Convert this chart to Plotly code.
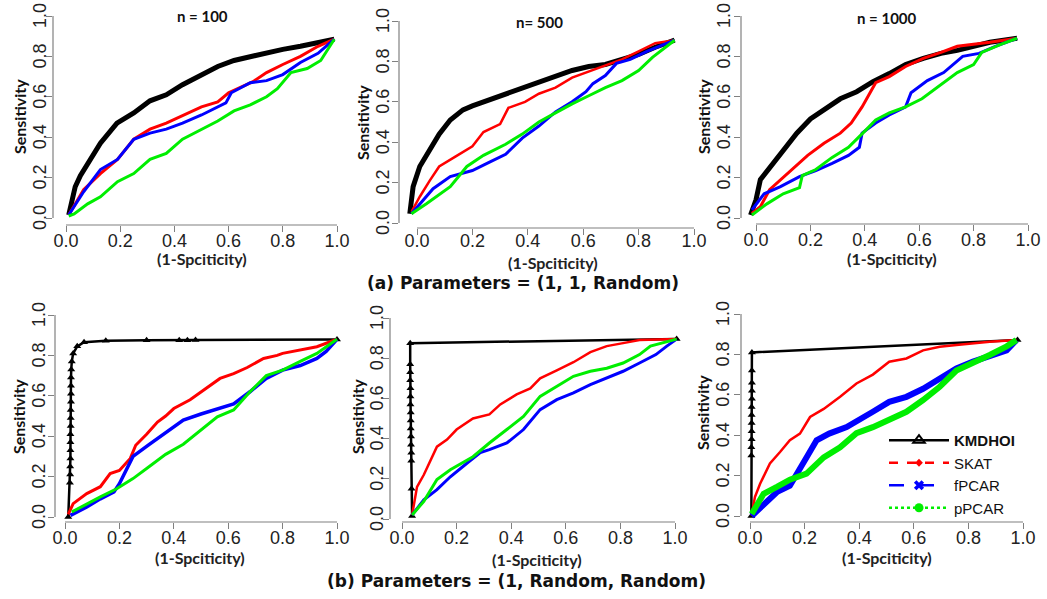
import plotly.graph_objects as go

W, H = 1047, 599

# ---------------- data: x = (1 - specificity), y = sensitivity ----------------
# (a) n = 100
P1_KMDHOI_X = [0.01, 0.022, 0.034, 0.053, 0.09, 0.127, 0.188, 0.25, 0.31, 0.37, 0.43, 0.50, 0.56, 0.62, 0.68, 0.74, 0.80, 0.865, 0.93, 0.99]
P1_KMDHOI_Y = [0.015, 0.09, 0.155, 0.21, 0.29, 0.37, 0.47, 0.52, 0.58, 0.61, 0.66, 0.71, 0.75, 0.78, 0.80, 0.815, 0.835, 0.85, 0.87, 0.885]
P1_SKAT_X = [0.01, 0.065, 0.127, 0.19, 0.25, 0.31, 0.37, 0.42, 0.50, 0.56, 0.60, 0.69, 0.74, 0.80, 0.865, 0.93, 0.99]
P1_SKAT_Y = [0.015, 0.14, 0.22, 0.29, 0.39, 0.44, 0.47, 0.50, 0.55, 0.575, 0.62, 0.675, 0.72, 0.76, 0.80, 0.85, 0.885]
P1_FPCAR_X = [0.01, 0.065, 0.127, 0.19, 0.25, 0.31, 0.37, 0.43, 0.50, 0.59, 0.61, 0.68, 0.74, 0.80, 0.865, 0.93, 0.99]
P1_FPCAR_Y = [0.015, 0.13, 0.24, 0.29, 0.39, 0.42, 0.44, 0.47, 0.51, 0.57, 0.62, 0.67, 0.68, 0.71, 0.77, 0.815, 0.885]
P1_PPCAR_X = [0.01, 0.03, 0.08, 0.127, 0.19, 0.25, 0.31, 0.37, 0.43, 0.50, 0.56, 0.62, 0.68, 0.74, 0.78, 0.83, 0.89, 0.94, 0.99]
P1_PPCAR_Y = [0.01, 0.02, 0.07, 0.105, 0.18, 0.22, 0.29, 0.32, 0.39, 0.44, 0.48, 0.53, 0.56, 0.60, 0.64, 0.72, 0.74, 0.78, 0.885]

# (a) n = 500
P2_KMDHOI_X = [-0.026, -0.014, 0.01, 0.046, 0.08, 0.12, 0.166, 0.20, 0.26, 0.32, 0.38, 0.44, 0.50, 0.56, 0.62, 0.68, 0.74, 0.80, 0.86, 0.93]
P2_KMDHOI_Y = [0.046, 0.18, 0.28, 0.36, 0.44, 0.51, 0.56, 0.58, 0.61, 0.64, 0.665, 0.70, 0.73, 0.755, 0.775, 0.785, 0.81, 0.835, 0.87, 0.905]
P2_SKAT_X = [-0.02, 0.01, 0.046, 0.08, 0.14, 0.20, 0.24, 0.30, 0.33, 0.39, 0.44, 0.50, 0.56, 0.62, 0.68, 0.74, 0.80, 0.86, 0.93]
P2_SKAT_Y = [0.055, 0.13, 0.21, 0.28, 0.33, 0.38, 0.45, 0.49, 0.57, 0.60, 0.64, 0.67, 0.72, 0.75, 0.78, 0.81, 0.85, 0.89, 0.905]
P2_FPCAR_X = [-0.02, 0.02, 0.058, 0.12, 0.20, 0.26, 0.32, 0.38, 0.44, 0.50, 0.56, 0.61, 0.635, 0.68, 0.72, 0.77, 0.83, 0.93]
P2_FPCAR_Y = [0.046, 0.11, 0.17, 0.23, 0.26, 0.30, 0.34, 0.42, 0.48, 0.55, 0.60, 0.65, 0.69, 0.73, 0.79, 0.81, 0.85, 0.905]
P2_PPCAR_X = [-0.02, 0.034, 0.12, 0.18, 0.24, 0.32, 0.38, 0.44, 0.50, 0.56, 0.62, 0.68, 0.74, 0.80, 0.85, 0.93]
P2_PPCAR_Y = [0.046, 0.095, 0.18, 0.28, 0.335, 0.39, 0.44, 0.50, 0.545, 0.59, 0.63, 0.67, 0.705, 0.755, 0.82, 0.905]

# (a) n = 1000
P3_KMDHOI_X = [-0.02, 0.0, 0.016, 0.05, 0.10, 0.15, 0.20, 0.25, 0.31, 0.37, 0.43, 0.49, 0.55, 0.615, 0.68, 0.74, 0.80, 0.86, 0.96]
P3_KMDHOI_Y = [0.015, 0.09, 0.19, 0.25, 0.34, 0.42, 0.49, 0.535, 0.59, 0.625, 0.675, 0.715, 0.76, 0.79, 0.815, 0.83, 0.85, 0.87, 0.89]
P3_SKAT_X = [-0.015, 0.016, 0.05, 0.126, 0.19, 0.25, 0.31, 0.35, 0.39, 0.44, 0.49, 0.55, 0.615, 0.68, 0.74, 0.86, 0.96]
P3_SKAT_Y = [0.023, 0.056, 0.14, 0.23, 0.31, 0.37, 0.42, 0.47, 0.55, 0.67, 0.70, 0.75, 0.79, 0.82, 0.85, 0.87, 0.89]
P3_FPCAR_X = [-0.015, 0.03, 0.09, 0.16, 0.22, 0.28, 0.34, 0.38, 0.39, 0.44, 0.49, 0.55, 0.57, 0.63, 0.69, 0.76, 0.82, 0.88, 0.96]
P3_FPCAR_Y = [0.04, 0.12, 0.155, 0.205, 0.235, 0.27, 0.31, 0.35, 0.42, 0.47, 0.51, 0.55, 0.62, 0.68, 0.72, 0.80, 0.815, 0.85, 0.89]
P3_PPCAR_X = [-0.015, 0.04, 0.10, 0.16, 0.17, 0.22, 0.28, 0.34, 0.40, 0.44, 0.49, 0.55, 0.61, 0.68, 0.74, 0.80, 0.83, 0.90, 0.96]
P3_PPCAR_Y = [0.015, 0.07, 0.12, 0.15, 0.21, 0.24, 0.30, 0.35, 0.43, 0.485, 0.52, 0.55, 0.59, 0.66, 0.72, 0.76, 0.82, 0.86, 0.89]

# (b) panel 1
P4_KMDHOI_X = [0.012, 0.018, 0.019, 0.019, 0.02, 0.02, 0.02, 0.02, 0.021, 0.021, 0.021, 0.022, 0.022, 0.022, 0.022, 0.023, 0.025, 0.03, 0.045, 0.07, 0.15, 0.30, 0.42, 0.45, 0.48, 1.0]
P4_KMDHOI_Y = [0.0, 0.17, 0.21, 0.25, 0.29, 0.33, 0.37, 0.41, 0.45, 0.49, 0.53, 0.57, 0.61, 0.65, 0.69, 0.73, 0.77, 0.81, 0.845, 0.865, 0.872, 0.875, 0.875, 0.875, 0.876, 0.879]
P4_SKAT_X = [0.012, 0.03, 0.08, 0.13, 0.166, 0.20, 0.24, 0.26, 0.30, 0.34, 0.37, 0.40, 0.46, 0.52, 0.57, 0.62, 0.67, 0.73, 0.78, 0.80, 0.865, 0.926, 1.0]
P4_SKAT_Y = [0.013, 0.066, 0.116, 0.15, 0.215, 0.23, 0.29, 0.355, 0.41, 0.47, 0.50, 0.537, 0.58, 0.636, 0.686, 0.71, 0.74, 0.785, 0.80, 0.81, 0.826, 0.843, 0.88]
P4_FPCAR_X = [0.02, 0.08, 0.13, 0.18, 0.20, 0.25, 0.31, 0.37, 0.435, 0.50, 0.56, 0.62, 0.68, 0.74, 0.80, 0.865, 0.926, 0.96, 1.0]
P4_FPCAR_Y = [0.008, 0.05, 0.09, 0.124, 0.165, 0.30, 0.36, 0.42, 0.48, 0.51, 0.537, 0.56, 0.62, 0.686, 0.727, 0.75, 0.785, 0.82, 0.88]
P4_PPCAR_X = [0.025, 0.08, 0.13, 0.19, 0.25, 0.31, 0.37, 0.435, 0.50, 0.56, 0.62, 0.68, 0.74, 0.80, 0.865, 0.926, 1.0]
P4_PPCAR_Y = [0.025, 0.066, 0.10, 0.14, 0.19, 0.25, 0.31, 0.36, 0.43, 0.496, 0.53, 0.62, 0.70, 0.727, 0.77, 0.81, 0.88]

# (b) panel 2
P5_KMDHOI_X = [0.037, 0.035, 0.034, 0.034, 0.033, 0.033, 0.032, 0.032, 0.032, 0.031, 0.031, 0.031, 0.03, 0.03, 0.03, 0.03, 1.006]
P5_KMDHOI_Y = [0.015, 0.15, 0.29, 0.33, 0.37, 0.41, 0.45, 0.49, 0.53, 0.57, 0.61, 0.65, 0.69, 0.73, 0.77, 0.875, 0.895]
P5_SKAT_X = [0.037, 0.055, 0.08, 0.10, 0.128, 0.165, 0.20, 0.26, 0.32, 0.36, 0.42, 0.47, 0.506, 0.567, 0.628, 0.69, 0.75, 0.81, 0.87, 1.006]
P5_SKAT_Y = [0.02, 0.16, 0.22, 0.28, 0.36, 0.395, 0.445, 0.50, 0.52, 0.57, 0.62, 0.65, 0.70, 0.74, 0.78, 0.83, 0.86, 0.875, 0.89, 0.895]
P5_FPCAR_X = [0.037, 0.08, 0.128, 0.177, 0.24, 0.287, 0.32, 0.384, 0.445, 0.506, 0.567, 0.628, 0.69, 0.75, 0.81, 0.87, 0.93, 0.97, 1.006]
P5_FPCAR_Y = [0.02, 0.096, 0.146, 0.21, 0.28, 0.33, 0.345, 0.378, 0.445, 0.544, 0.594, 0.627, 0.668, 0.70, 0.735, 0.776, 0.818, 0.86, 0.895]
P5_PPCAR_X = [0.037, 0.08, 0.128, 0.177, 0.26, 0.32, 0.384, 0.445, 0.506, 0.567, 0.628, 0.69, 0.75, 0.81, 0.87, 0.91, 1.006]
P5_PPCAR_Y = [0.02, 0.088, 0.196, 0.245, 0.31, 0.378, 0.445, 0.51, 0.61, 0.66, 0.71, 0.735, 0.75, 0.776, 0.818, 0.86, 0.895]

# (b) panel 3
P6_KMDHOI_X = [0.005, 0.005, 0.005, 0.006, 0.006, 0.006, 0.006, 0.006, 0.007, 0.007, 0.007, 0.007, 0.007, 0.98]
P6_KMDHOI_Y = [0.0, 0.30, 0.34, 0.38, 0.42, 0.46, 0.50, 0.54, 0.58, 0.62, 0.66, 0.72, 0.81, 0.871]
P6_SKAT_X = [0.006, 0.018, 0.037, 0.073, 0.11, 0.146, 0.183, 0.207, 0.22, 0.27, 0.33, 0.39, 0.45, 0.51, 0.573, 0.634, 0.695, 0.756, 0.878, 0.976]
P6_SKAT_Y = [0.003, 0.094, 0.16, 0.26, 0.317, 0.375, 0.408, 0.458, 0.49, 0.53, 0.59, 0.656, 0.70, 0.764, 0.78, 0.82, 0.838, 0.846, 0.863, 0.871]
P6_FPCAR_X = [0.006, 0.05, 0.10, 0.146, 0.17, 0.207, 0.244, 0.29, 0.354, 0.39, 0.45, 0.51, 0.573, 0.634, 0.695, 0.756, 0.817, 0.878, 0.94, 0.976]
P6_FPCAR_Y = [0.0, 0.06, 0.12, 0.15, 0.21, 0.29, 0.375, 0.408, 0.44, 0.466, 0.516, 0.565, 0.59, 0.63, 0.68, 0.73, 0.764, 0.79, 0.82, 0.871]
P6_PPCAR_X = [0.006, 0.05, 0.10, 0.146, 0.207, 0.27, 0.33, 0.39, 0.45, 0.51, 0.573, 0.634, 0.695, 0.756, 0.817, 0.878, 0.94, 0.976]
P6_PPCAR_Y = [0.01, 0.11, 0.145, 0.18, 0.21, 0.29, 0.34, 0.41, 0.44, 0.474, 0.516, 0.574, 0.64, 0.72, 0.755, 0.797, 0.84, 0.871]

METHODS = ["KMDHOI", "SKAT", "fPCAR", "pPCAR"]
PANEL_TITLES = ["n = 100", "n= 500", "n = 1000"]
CAPTIONS = ["(a) Parameters = (1, 1, Random)", "(b) Parameters = (1, Random, Random)"]
TICK_VALUES = [0.0, 0.2, 0.4, 0.6, 0.8, 1.0]
TICK_LABELS = ["0.0", "0.2", "0.4", "0.6", "0.8", "1.0"]
X_TITLE = "(1-Spciticity)"
Y_TITLE = "Sensitivity"

PANELS = [
    {"KMDHOI": (P1_KMDHOI_X, P1_KMDHOI_Y), "SKAT": (P1_SKAT_X, P1_SKAT_Y), "fPCAR": (P1_FPCAR_X, P1_FPCAR_Y), "pPCAR": (P1_PPCAR_X, P1_PPCAR_Y)},
    {"KMDHOI": (P2_KMDHOI_X, P2_KMDHOI_Y), "SKAT": (P2_SKAT_X, P2_SKAT_Y), "fPCAR": (P2_FPCAR_X, P2_FPCAR_Y), "pPCAR": (P2_PPCAR_X, P2_PPCAR_Y)},
    {"KMDHOI": (P3_KMDHOI_X, P3_KMDHOI_Y), "SKAT": (P3_SKAT_X, P3_SKAT_Y), "fPCAR": (P3_FPCAR_X, P3_FPCAR_Y), "pPCAR": (P3_PPCAR_X, P3_PPCAR_Y)},
    {"KMDHOI": (P4_KMDHOI_X, P4_KMDHOI_Y), "SKAT": (P4_SKAT_X, P4_SKAT_Y), "fPCAR": (P4_FPCAR_X, P4_FPCAR_Y), "pPCAR": (P4_PPCAR_X, P4_PPCAR_Y)},
    {"KMDHOI": (P5_KMDHOI_X, P5_KMDHOI_Y), "SKAT": (P5_SKAT_X, P5_SKAT_Y), "fPCAR": (P5_FPCAR_X, P5_FPCAR_Y), "pPCAR": (P5_PPCAR_X, P5_PPCAR_Y)},
    {"KMDHOI": (P6_KMDHOI_X, P6_KMDHOI_Y), "SKAT": (P6_SKAT_X, P6_SKAT_Y), "fPCAR": (P6_FPCAR_X, P6_FPCAR_Y), "pPCAR": (P6_PPCAR_X, P6_PPCAR_Y)},
]

# ---------------- styling / layout geometry (pixels) ----------------
COLORS = {"KMDHOI": "#000000", "SKAT": "#ff0000", "fPCAR": "#0000ff", "pPCAR": "#00ee00"}
WIDTHS = [
    {"KMDHOI": 5, "SKAT": 3, "fPCAR": 3, "pPCAR": 3},
    {"KMDHOI": 5, "SKAT": 2.5, "fPCAR": 3, "pPCAR": 3},
    {"KMDHOI": 5, "SKAT": 3, "fPCAR": 3, "pPCAR": 3},
    {"KMDHOI": 2.5, "SKAT": 3, "fPCAR": 3.5, "pPCAR": 3},
    {"KMDHOI": 2.5, "SKAT": 2.5, "fPCAR": 3, "pPCAR": 3},
    {"KMDHOI": 2.5, "SKAT": 2.5, "fPCAR": 6, "pPCAR": 6},
]
# x0px, x1px (pixel of x=0 / x=1), gap of y-axis line, y0px, y1px (pixel of y=0 / y=1), gap of x-axis line
GEOM = [
    (66, 337, 13, 218, 16, 7),
    (417, 694, 18, 223, 21, 5),
    (756, 1028, 15, 218, 16, 6),
    (65, 337, 10, 517, 315, 5),
    (402, 675, 12, 519, 318, 3),
    (750, 1023, 9, 516, 314, 6),
]
YLABEL_SHIFT = [-13, -16, -17, -16, -13, -18]   # px from y-axis line to rotated tick label centre
XLABEL_STANDOFF = [-7, -10, -7, -7, -7, -7]
TITLE_POS = [(202, 16), (539, 22), (887, 18)]
XTITLE_POS = [(202, 258), (553, 262), (892, 258), (200, 557), (537, 559), (887, 557)]
YTITLE_POS = [(19, 117), (362, 123), (703, 117), (18, 417), (357, 417), (702, 413)]
CAPTION_POS = [(523, 283), (516, 581)]

TITLE_FONT = "Lato"
CAPTION_FONT = "DejaVu Sans"
TICK_FONT = "Liberation Sans"
AXIS_GREY = "#808080"

fig = go.Figure()

for k, (series, widths) in enumerate(zip(PANELS, WIDTHS)):
    ax = "" if k == 0 else str(k + 1)
    for m in METHODS:
        xs, ys = series[m]
        if m == "KMDHOI" and k >= 3:
            kw = dict(mode="lines+markers",
                      marker=dict(symbol="triangle-up", size=7, color=COLORS[m]))
        else:
            kw = dict(mode="lines")
        fig.add_trace(go.Scatter(
            x=xs, y=ys, xaxis="x" + ax, yaxis="y" + ax,
            line=dict(color=COLORS[m], width=widths[m]),
            showlegend=False, hoverinfo="skip", **kw))

# legend entries (styled as in the reference key)
LEG_STYLE = {
    "KMDHOI": dict(dash="solid", symbol="triangle-up-open", size=10, label="<b>KMDHOI</b>"),
    "SKAT": dict(dash="dash", symbol="diamond", size=6, label="SKAT"),
    "fPCAR": dict(dash="longdash", symbol="x", size=9, label="fPCAR"),
    "pPCAR": dict(dash="dot", symbol="circle", size=9, label="pPCAR"),
}
for m in METHODS:
    st = LEG_STYLE[m]
    fig.add_trace(go.Scatter(
        x=[None], y=[None], xaxis="x6", yaxis="y6", mode="lines+markers",
        name=st["label"],
        line=dict(color=COLORS[m], width=2.5, dash=st["dash"]),
        marker=dict(symbol=st["symbol"], size=st["size"], color=COLORS[m],
                    line=dict(color=COLORS[m], width=2 if m == "KMDHOI" else 0)),
        showlegend=True, hoverinfo="skip"))

layout = dict(
    template="none",
    width=W, height=H, autosize=False,
    margin=dict(l=0, r=0, t=0, b=0, pad=0, autoexpand=False),
    paper_bgcolor="white", plot_bgcolor="white",
    showlegend=True,
    legend=dict(x=884 / W, y=1 - 424 / H, xanchor="left", yanchor="top",
                bgcolor="rgba(0,0,0,0)", borderwidth=0, itemwidth=60,
                font=dict(family=TICK_FONT, size=15, color="#111"),
                tracegroupgap=0, itemclick=False, itemdoubleclick=False),
)
shapes = []
annotations = []
for k, (x0, x1, gx, y0, y1, gy) in enumerate(GEOM):
    ax = "" if k == 0 else str(k + 1)
    u = x1 - x0
    v = y0 - y1
    layout["xaxis" + ax] = dict(
        domain=[(x0 - gx) / W, (x1 + gx) / W], range=[-gx / u, 1 + gx / u],
        anchor="y" + ax, tickvals=TICK_VALUES, ticktext=TICK_LABELS, automargin=False,
        ticks="outside", ticklen=6, tickwidth=1, tickcolor=AXIS_GREY,
        ticklabelstandoff=XLABEL_STANDOFF[k],
        showline=False, showgrid=False, zeroline=False, fixedrange=True,
        tickfont=dict(family=TICK_FONT, size=18, color="#222"))
    layout["yaxis" + ax] = dict(
        domain=[1 - (y0 + gy) / H, 1 - (y1 - gy) / H], range=[-gy / v, 1 + gy / v],
        anchor="x" + ax, tickvals=TICK_VALUES, automargin=False, showticklabels=False,
        ticks="outside", ticklen=6, tickwidth=1, tickcolor=AXIS_GREY,
        showline=False, showgrid=False, zeroline=False, fixedrange=True)
    # rotated y tick labels (R style, las = 0), placed through the y axis scale
    for tv, tl in zip(TICK_VALUES, TICK_LABELS):
        annotations.append(dict(text=tl, xref="x" + ax + " domain", x=0, yref="y" + ax, y=tv,
                                xshift=YLABEL_SHIFT[k], showarrow=False, textangle=-90,
                                xanchor="center", yanchor="middle",
                                font=dict(family=TICK_FONT, size=18, color="#222")))
    shapes.append(dict(type="line", xref="x" + ax, yref="y" + ax + " domain",
                       x0=TICK_VALUES[0], x1=TICK_VALUES[-1], y0=0, y1=0,
                       line=dict(color=AXIS_GREY, width=1.2)))
    shapes.append(dict(type="line", xref="x" + ax + " domain", yref="y" + ax,
                       x0=0, x1=0, y0=TICK_VALUES[0], y1=TICK_VALUES[-1],
                       line=dict(color=AXIS_GREY, width=1.2)))
    px, py = XTITLE_POS[k]
    annotations.append(dict(text="<b>%s</b>" % X_TITLE, x=px / W, y=1 - py / H, xref="paper", yref="paper",
                            showarrow=False, xanchor="center", yanchor="middle",
                            font=dict(family=TITLE_FONT, size=16, color="#222")))
    px, py = YTITLE_POS[k]
    annotations.append(dict(text="<b>%s</b>" % Y_TITLE, x=px / W, y=1 - py / H, xref="paper", yref="paper",
                            showarrow=False, xanchor="center", yanchor="middle", textangle=-90,
                            font=dict(family=TITLE_FONT, size=16, color="#111")))

for t, (px, py) in zip(PANEL_TITLES, TITLE_POS):
    annotations.append(dict(text="<b>%s</b>" % t, x=px / W, y=1 - py / H, xref="paper", yref="paper",
                            showarrow=False, xanchor="center", yanchor="middle",
                            font=dict(family=TITLE_FONT, size=15, color="#111")))
for t, (px, py) in zip(CAPTIONS, CAPTION_POS):
    annotations.append(dict(text="<b>%s</b>" % t, x=px / W, y=1 - py / H, xref="paper", yref="paper",
                            showarrow=False, xanchor="center", yanchor="middle",
                            font=dict(family=CAPTION_FONT, size=17, color="#111")))

layout["shapes"] = shapes
layout["annotations"] = annotations
fig.update_layout(**layout)

fig.write_html("out.html", config={"displayModeBar": False},
               post_script="document.body.style.margin='0px';document.body.style.overflow='hidden';")
